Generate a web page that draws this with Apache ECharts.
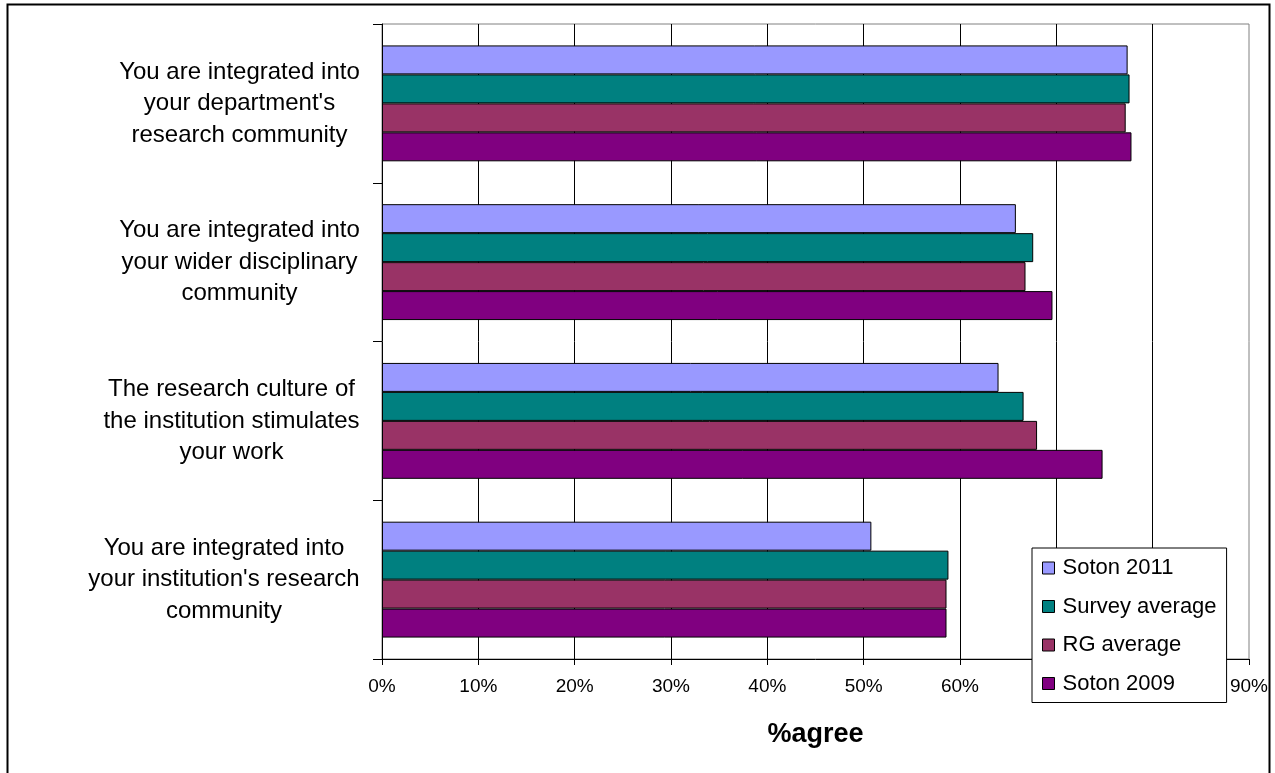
<!DOCTYPE html>
<html>
<head>
<meta charset="utf-8">
<script src="https://cdn.jsdelivr.net/npm/echarts@6/dist/echarts.min.js"></script>
<style>
  html, body { margin: 0; padding: 0; background: #fff; }
  #chart { width: 1275px; height: 773px; }
</style>
</head>
<body>
<div id="chart"></div>
<script>
// Survey statements (top to bottom)
const categories = [
  "You are integrated into\nyour department's\nresearch community",
  "You are integrated into\nyour wider disciplinary\ncommunity",
  "The research culture of\nthe institution stimulates\nyour work",
  "You are integrated into\nyour institution's research\ncommunity"
];

// % agree per group
const soton2011 = [77.4, 65.8, 64.0, 50.8];
const surveyAverage = [77.6, 67.6, 66.6, 58.8];
const rgAverage = [77.2, 66.8, 68.0, 58.6];
const soton2009 = [77.8, 69.6, 74.8, 58.6];

const seriesNames = ['Soton 2011', 'Survey average', 'RG average', 'Soton 2009'];
const seriesColors = ['#9999FF', '#008080', '#993366', '#800080'];
const seriesData = [soton2011, surveyAverage, rgAverage, soton2009];

const xTicks = { min: 0, max: 90, interval: 10 };

const FONT = 'Liberation Sans, Arial, sans-serif';
const CAT_FONT_SIZE = 24;

// Each category label is a block whose lines are centred inside it,
// with the block itself right-aligned against the axis.
const measureCtx = document.createElement('canvas').getContext('2d');
measureCtx.font = CAT_FONT_SIZE + 'px ' + FONT;
const catRich = {};
categories.forEach((c, i) => {
  const w = Math.max(...c.split('\n').map(l => measureCtx.measureText(l).width));
  catRich['c' + i] = {
    width: Math.ceil(w), align: 'center',
    fontFamily: FONT, fontSize: CAT_FONT_SIZE, lineHeight: 31.5, color: '#000'
  };
});

const chart = echarts.init(document.getElementById('chart'), null, { renderer: 'canvas' });

chart.setOption({
  backgroundColor: '#ffffff',
  animation: false,
  textStyle: { fontFamily: FONT, color: '#000' },
  graphic: [{
    type: 'rect',
    shape: { x: 7.5, y: 4.5, width: 1262, height: 800 },
    style: { fill: 'none', stroke: '#000', lineWidth: 2 },
    z: 100
  }],
  grid: {
    left: 382, right: 1275 - 1249, top: 24, bottom: 773 - 659,
    show: true, borderColor: '#808080', borderWidth: 1, backgroundColor: '#fff'
  },
  legend: {
    orient: 'vertical',
    left: 1032, top: 548,
    padding: [9, 10, 8, 10],
    itemGap: 16.5,
    itemWidth: 12, itemHeight: 12,
    icon: 'rect',
    backgroundColor: '#fff',
    borderColor: '#000', borderWidth: 1,
    itemStyle: { borderColor: '#000', borderWidth: 1 },
    textStyle: { fontFamily: FONT, fontSize: 22, color: '#000', padding: [0, 0, 0, 3] },
    data: seriesNames,
    z: 50
  },
  xAxis: {
    type: 'value',
    min: xTicks.min, max: xTicks.max, interval: xTicks.interval,
    name: '%agree',
    nameLocation: 'middle',
    nameGap: 62,
    nameTextStyle: { fontFamily: FONT, fontSize: 27, fontWeight: 'bold', color: '#000' },
    axisLine: { show: true, lineStyle: { color: '#000', width: 1 } },
    axisTick: { show: true, length: 6, lineStyle: { color: '#000' } },
    axisLabel: { formatter: '{value}%', fontFamily: FONT, fontSize: 19, color: '#000', margin: 18 },
    splitLine: { show: true, showMinLine: false, showMaxLine: false, lineStyle: { color: '#000', width: 1 } }
  },
  yAxis: {
    type: 'category',
    inverse: true,
    data: categories,
    axisLine: { show: true, lineStyle: { color: '#000', width: 1 } },
    axisTick: { show: true, length: 9, lineStyle: { color: '#000' } },
    axisLabel: {
      fontFamily: FONT, fontSize: CAT_FONT_SIZE, color: '#000',
      align: 'right', margin: 22, lineHeight: 31.5,
      formatter: (value, index) => value.split('\n').map(l => '{c' + index + '|' + l + '}').join('\n'),
      rich: catRich
    },
    splitLine: { show: false }
  },
  series: seriesNames.map((name, i) => ({
    name: name,
    type: 'bar',
    data: seriesData[i],
    barGap: '0%',
    barCategoryGap: '27%',
    itemStyle: { color: seriesColors[i], borderColor: '#000', borderWidth: 1 }
  }))
});
</script>
</body>
</html>
